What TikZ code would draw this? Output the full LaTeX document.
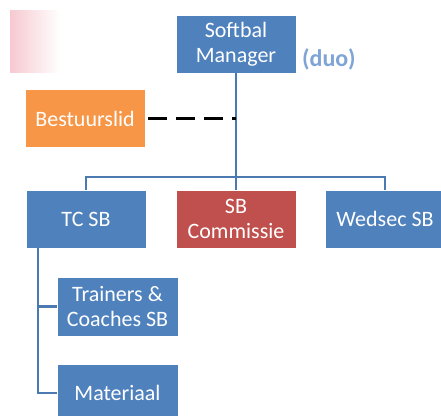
\documentclass[tikz,border=0pt]{standalone}
\usepackage{fontspec}
\setmainfont{Carlito}
\definecolor{bxblue}{HTML}{4F81BD}
\definecolor{bxorange}{HTML}{F79646}
\definecolor{bxred}{HTML}{C0504D}
\definecolor{lnblue}{HTML}{4A7AB0}
\definecolor{duoblue}{HTML}{7FA4D6}
\definecolor{pinkish}{HTML}{F6C9D0}
\begin{document}
\begin{tikzpicture}[x=1pt,y=1pt,
  box/.style={draw=white, line width=0.6pt, fill=bxblue, text=white, align=center,
    minimum width=120pt, minimum height=58pt, inner sep=2pt,
    font=\fontsize{22}{25}\selectfont},
  conn/.style={draw=lnblue, line width=2.2pt},
  dashconn/.style={draw=black, line width=2.6pt, dash pattern=on 19pt off 9pt}]
\useasboundingbox (0,0) rectangle (441,-415);
\fill[white] (0,0) rectangle (441,-415);
\fill[left color=pinkish, right color=white] (10,-10) rectangle (60,-72);
\node[box] (sm) at (236,-44) {Softbal\\Manager};
\node[text=duoblue, font=\fontsize{24}{26}\selectfont\bfseries, anchor=west, inner sep=0pt] (duo) at (302,-59) {(duo)};
\node[box, fill=bxorange] (best) at (85,-118.5) {Bestuurslid};
\node[box] (tc) at (86,-219) {TC SB};
\node[box, fill=bxred] (sbc) at (236,-219) {SB\\Commissie};
\node[box] (wed) at (385,-219) {Wedsec SB};
\node[box, minimum width=121pt, minimum height=59pt] (tr) at (117.5,-306.5) {Trainers \&\\Coaches SB};
\node[box, minimum width=121pt] (mat) at (117.5,-393) {Materiaal};
\coordinate (bus) at (236,-177);
\coordinate (tcdrop) at (38,-248);
\draw[conn] (sm.south) -- (sbc.north);
\draw[conn] (tc.north) |- (bus) -| (wed.north);
\draw[conn] (tcdrop) |- (tr.west);
\draw[conn] (tcdrop) |- (mat.west);
\draw[dashconn] ([xshift=3pt]best.east) -- (best.east -| sm.south);
\end{tikzpicture}
\end{document}
